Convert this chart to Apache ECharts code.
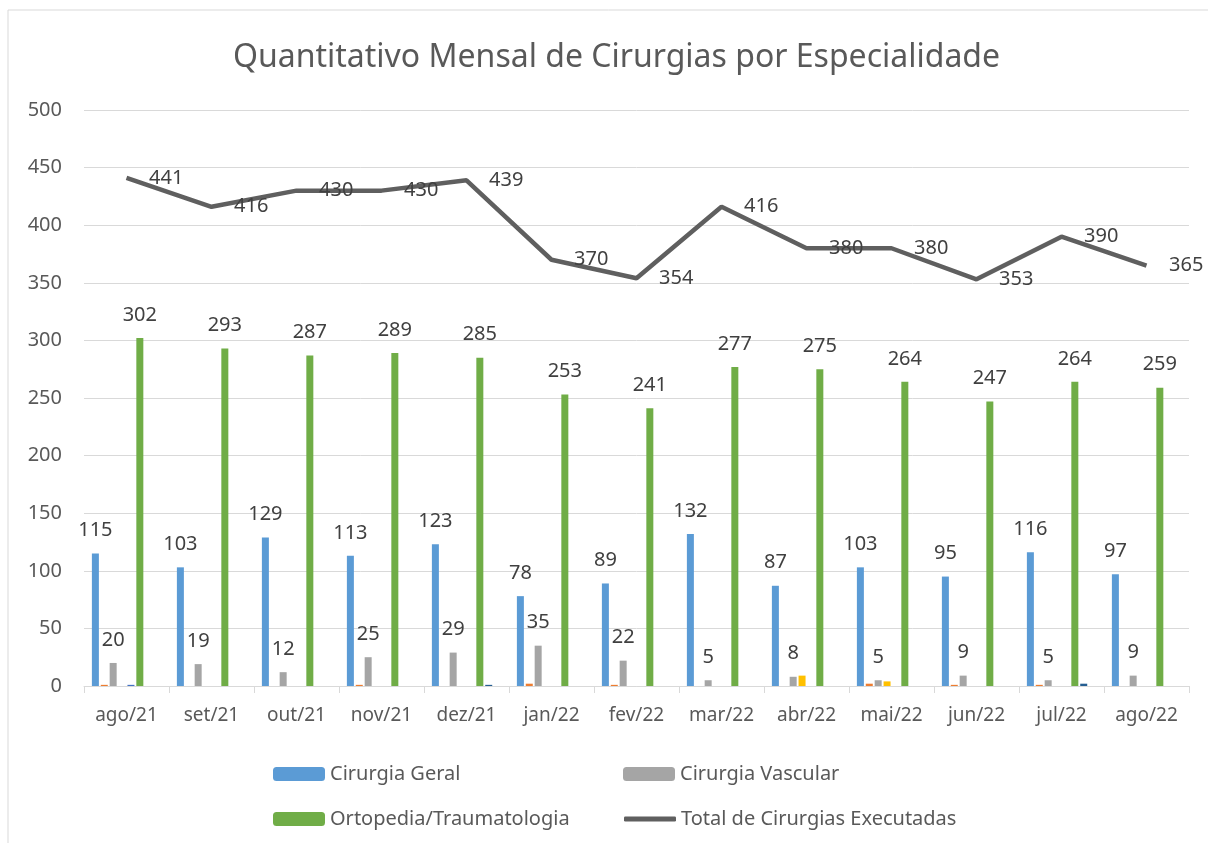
<!DOCTYPE html>
<html lang="pt">

<head>
    <meta charset="UTF-8">
    <title>Quantitativo Mensal de Cirurgias por Especialidade</title>
    <style>
        html, body { margin: 0; padding: 0; background: #fff; }
        #chart { width: 1208px; height: 843px; }
    </style>
    <script src="https://cdn.jsdelivr.net/npm/echarts@6/dist/echarts.min.js"></script>
</head>

<body>
    <div id="chart"></div>
    <script>
        // dados
        var meses = ['ago/21', 'set/21', 'out/21', 'nov/21', 'dez/21', 'jan/22', 'fev/22', 'mar/22', 'abr/22', 'mai/22', 'jun/22', 'jul/22', 'ago/22'];
        var cirurgiaGeral = [115, 103, 129, 113, 123, 78, 89, 132, 87, 103, 95, 116, 97];
        var outra1 = [1, 0, 0, 1, 0, 2, 1, 0, 0, 2, 1, 1, 0];
        var cirurgiaVascular = [20, 19, 12, 25, 29, 35, 22, 5, 8, 5, 9, 5, 9];
        var outra2 = [0, 0, 0, 0, 0, 0, 0, 0, 9, 4, 0, 0, 0];
        var outra3 = [1, 0, 0, 0, 0, 0, 0, 0, 0, 0, 0, 0, 0];
        var ortopedia = [302, 293, 287, 289, 285, 253, 241, 277, 275, 264, 247, 264, 259];
        var outra4 = [0, 0, 0, 0, 1, 0, 0, 0, 0, 0, 0, 2, 0];
        var outra5 = [0, 0, 0, 0, 0, 0, 0, 0, 0, 0, 0, 0, 0];
        var totalCirurgias = [441, 416, 430, 430, 439, 370, 354, 416, 380, 380, 353, 390, 365];

        var txt = '#595959';
        var fonte = '"Noto Sans", sans-serif';
        var corLinha = '#5f5f5f';

        var rotulo = {
            show: true,
            position: 'top',
            distance: 13,
            color: '#404040',
            fontSize: 20,
            fontFamily: fonte
        };

        function barra(nome, dados, cor, comRotulo) {
            return {
                name: nome,
                type: 'bar',
                barWidth: 7,
                barGap: '27%',
                itemStyle: { color: cor },
                label: comRotulo ? rotulo : { show: false },
                data: dados
            };
        }

        function legenda(item, left, top, w) {
            return {
                left: left,
                top: top,
                itemWidth: w,
                itemHeight: 14,
                itemGap: 6,
                textStyle: { color: txt, fontSize: 20, fontFamily: fonte },
                data: [item]
            };
        }

        echarts.init(document.getElementById('chart')).setOption({
            animation: false,
            title: {
                text: 'Quantitativo Mensal de Cirurgias por Especialidade',
                left: 228,
                top: 37,
                textStyle: { color: txt, fontSize: 32, fontWeight: 'normal', fontFamily: fonte }
            },
            graphic: [{
                type: 'rect',
                shape: { x: 8, y: 10, width: 1220, height: 850 },
                style: { fill: 'none', stroke: '#d9d9d9', lineWidth: 1 },
                silent: true
            }],
            legend: [
                legenda('Cirurgia Geral', 268, 759, 52),
                legenda('Cirurgia Vascular', 618, 759, 52),
                legenda('Ortopedia/Traumatologia', 268, 804, 52),
                {
                    left: 619,
                    top: 804,
                    itemWidth: 52,
                    itemHeight: 5,
                    itemGap: 6,
                    textStyle: { color: txt, fontSize: 20, fontFamily: fonte },
                    data: [{ name: 'Total de Cirurgias Executadas', icon: 'roundRect', itemStyle: { color: corLinha } }]
                }
            ],
            grid: {
                left: 84,
                right: 19,
                top: 110,
                bottom: 157
            },
            xAxis: {
                type: 'category',
                data: meses,
                axisLine: { lineStyle: { color: '#d9d9d9', width: 1 } },
                axisTick: { show: true, length: 7, lineStyle: { color: '#d9d9d9' } },
                axisLabel: { color: txt, fontSize: 19, fontFamily: fonte, margin: 20, interval: 0, hideOverlap: false }
            },
            yAxis: {
                type: 'value',
                min: 0,
                max: 500,
                interval: 50,
                axisLine: { show: false },
                axisTick: { show: false },
                axisLabel: { color: txt, fontSize: 20, fontFamily: fonte, margin: 22 },
                splitLine: { lineStyle: { color: '#d9d9d9', width: 1 } }
            },
            series: [
                barra('Cirurgia Geral', cirurgiaGeral, '#5B9BD5', true),
                barra('Outra especialidade 1', outra1, '#ED7D31', false),
                barra('Cirurgia Vascular', cirurgiaVascular, '#A5A5A5', true),
                barra('Outra especialidade 2', outra2, '#FFC000', false),
                barra('Outra especialidade 3', outra3, '#4472C4', false),
                barra('Ortopedia/Traumatologia', ortopedia, '#70AD47', true),
                barra('Outra especialidade 4', outra4, '#255E91', false),
                barra('Outra especialidade 5', outra5, '#9E480E', false),
                {
                    name: 'Total de Cirurgias Executadas',
                    type: 'line',
                    symbol: 'circle',
                    symbolSize: 1,
                    showSymbol: true,
                    z: 5,
                    lineStyle: { color: corLinha, width: 4.5 },
                    itemStyle: { color: 'rgba(0,0,0,0)' },
                    label: {
                        show: true,
                        position: 'right',
                        distance: 22,
                        color: '#404040',
                        fontSize: 20,
                        fontFamily: fonte
                    },
                    data: totalCirurgias
                }
            ]
        });
    </script>
</body>

</html>
